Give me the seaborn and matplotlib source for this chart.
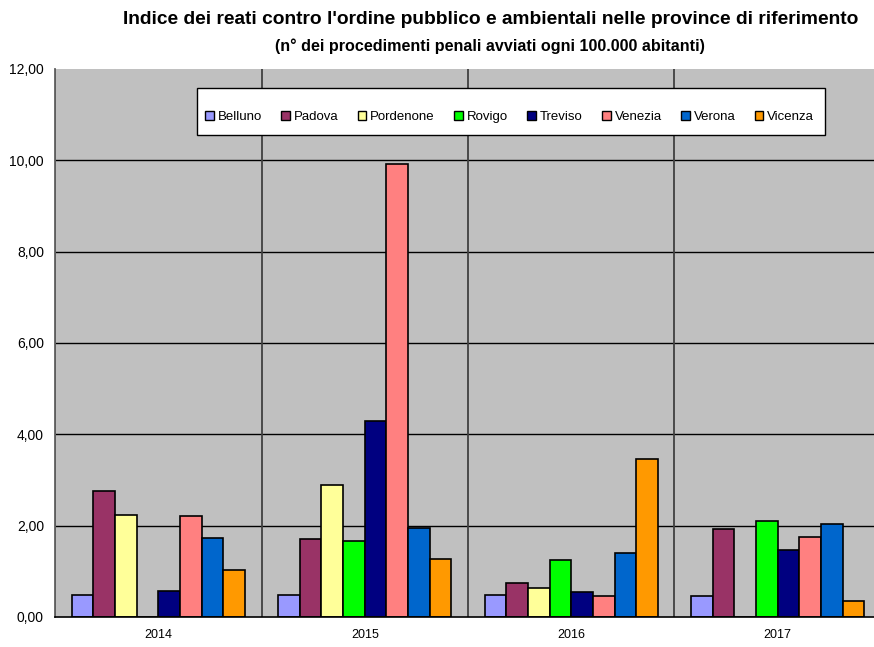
import matplotlib
matplotlib.use("Agg")
import matplotlib.pyplot as plt
import matplotlib.ticker as mticker
from matplotlib.patches import Patch, Rectangle
import seaborn as sns
import pandas as pd

# dati
anni = ["2014", "2015", "2016", "2017"]
province = ["Belluno", "Padova", "Pordenone", "Rovigo", "Treviso", "Venezia", "Verona", "Vicenza"]
belluno = [0.48, 0.48, 0.48, 0.47]
padova = [2.77, 1.71, 0.74, 1.92]
pordenone = [2.23, 2.88, 0.63, 0.0]
rovigo = [0.0, 1.66, 1.25, 2.10]
treviso = [0.57, 4.29, 0.55, 1.46]
venezia = [2.22, 9.93, 0.46, 1.75]
verona = [1.74, 1.94, 1.40, 2.04]
vicenza = [1.04, 1.26, 3.45, 0.34]
colori = ["#9999FF", "#993366", "#FFFF99", "#00FF00", "#000080", "#FF8080", "#0066CC", "#FF9900"]

valori = [belluno, padova, pordenone, rovigo, treviso, venezia, verona, vicenza]
righe = []
for p, serie in zip(province, valori):
    for a, v in zip(anni, serie):
        righe.append({"anno": a, "provincia": p, "valore": v})
df = pd.DataFrame(righe)

sns.set_style("white")
plt.rcParams["font.family"] = ["Liberation Sans", "DejaVu Sans"]
plt.rcParams["text.color"] = "black"
plt.rcParams["xtick.color"] = "black"
plt.rcParams["ytick.color"] = "black"

fig = plt.figure(figsize=(8.74, 6.47), dpi=100)
ax = fig.add_axes([55 / 874, 30 / 647, 826 / 874, 548 / 647])
ax.set_facecolor("#C0C0C0")

sns.barplot(data=df, x="anno", y="valore", hue="provincia", order=anni,
            hue_order=province, palette=dict(zip(province, colori)),
            saturation=1, width=0.84, gap=0, edgecolor="black", linewidth=1.2,
            legend=False, ax=ax)

ax.set_ylim(0, 12)
ax.set_xlim(-0.5, 3.5)
ax.yaxis.set_major_locator(mticker.MultipleLocator(2))
ax.yaxis.set_major_formatter(mticker.FuncFormatter(lambda v, _: f"{v:.2f}".replace(".", ",")))
ax.set_xticks(range(4))
ax.set_xticklabels(anni)
ax.set_xticks([-0.5, 0.5, 1.5, 2.5, 3.5], minor=True)
ax.tick_params(axis="x", which="major", length=0, pad=9, labelsize=9)
ax.tick_params(axis="x", which="minor", length=5, color="#404040", width=1.2, direction="out")
ax.tick_params(axis="y", length=5, color="#404040", width=1.2, direction="out", labelsize=10, pad=3)
ax.set_xlabel("")
ax.set_ylabel("")

# griglia orizzontale (niente linea a 12)
for g in range(2, 12, 2):
    ax.axhline(g, color="black", linewidth=1, zorder=0.5)
ax.grid(axis="x", which="minor", color="#404040", linewidth=1.3)
ax.set_axisbelow(True)
for s in ["top", "right"]:
    ax.spines[s].set_visible(False)
ax.spines["left"].set_color("#606060")
ax.spines["left"].set_linewidth(1.3)
ax.spines["bottom"].set_color("black")
ax.spines["bottom"].set_linewidth(1.2)

# riquadro legenda
fig.patches.append(Rectangle((197 / 874, 1 - 135 / 647), 628 / 874, 47 / 647,
                             transform=fig.transFigure, facecolor="white",
                             edgecolor="black", linewidth=1, zorder=2))
maniglie = [Patch(facecolor=c, edgecolor="black", linewidth=1) for c in colori]
leg = fig.legend(maniglie, province, loc="center left",
                 bbox_to_anchor=(205 / 874, 1 - 117 / 647), ncol=8,
                 frameon=False, fontsize=9.5,
                 handlelength=0.65, handleheight=0.65, handletextpad=0.3,
                 columnspacing=1.47, borderpad=0, borderaxespad=0)
leg.set_zorder(5)

fig.text(0.561, 1 - 20 / 647, "Indice dei reati contro l'ordine pubblico e ambientali nelle province di riferimento",
         ha="center", va="center", fontsize=13.8, fontweight="bold")
fig.text(0.561, 1 - 46 / 647, "(n° dei procedimenti penali avviati ogni 100.000 abitanti)",
         ha="center", va="center", fontsize=11.6, fontweight="bold")

fig.savefig("out.png", dpi=100)
